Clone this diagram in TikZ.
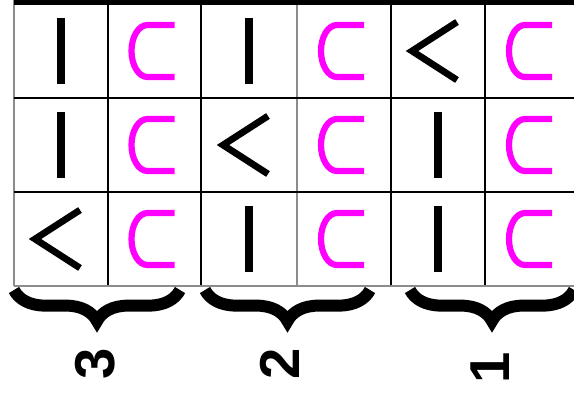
\documentclass[tikz,border=0pt]{standalone}
\usepackage{fontspec}
\setsansfont{Liberation Sans}
\usetikzlibrary{decorations.pathreplacing}
\definecolor{purlpink}{RGB}{255,0,255}
\definecolor{gridgray}{RGB}{140,140,140}
\tikzset{
  gridthin/.style={draw=gridgray,line width=1.3pt},
  gridbold/.style={draw=black,line width=1.5pt},
  toprule/.style={draw=black,line width=3.6pt},
  knitbar/.style={draw=black,line width=5.6pt},
  slipvee/.style={draw=black,line width=4.8pt,line join=miter},
  purlcup/.style={draw=purlpink,line width=4.4pt},
  heavybrace/.style={decorate,decoration={brace,mirror,amplitude=0.78cm},line width=8.5pt},
  rownum/.style={font=\sffamily\bfseries\fontsize{40}{44}\selectfont,rotate=90,inner sep=0pt}
}
% chart symbols, #1 #2 = cell centre
\newcommand{\KnitSym}[2]{\draw[knitbar] (#1,#2) ++(0,-33) -- ++(0,66);}
\newcommand{\SlipSym}[2]{\draw[slipvee] (#1,#2) ++(19,-29) -- ++(-45,29) -- ++(45,29);}
\newcommand{\PurlSym}[2]{\draw[purlcup] (#1,#2) ++(20,-26) -- ++(-27,0)
  arc[start angle=270,end angle=90,x radius=16,y radius=26] -- ++(27,0);}

\begin{document}
\begin{tikzpicture}[x=0.025cm,y=-0.025cm]
  \useasboundingbox (0,0) rectangle (574,397);
  \clip (0,0) rectangle (574,397);

  % grid
  \foreach \x in {14,297} \draw[gridthin] (\x,0) -- (\x,286);
  \foreach \x in {108,201,391,485} \draw[gridbold] (\x,0) -- (\x,286);
  \foreach \y in {98,192} \draw[gridbold] (14,\y) -- (580,\y);
  \draw[gridthin] (14,286) -- (580,286);
  \draw[toprule] (14,2) -- (580,2);

  % row 1
  \KnitSym{61}{51}  \PurlSym{154.5}{51}
  \KnitSym{249}{51} \PurlSym{344}{51}
  \SlipSym{438}{51} \PurlSym{532}{51}
  % row 2
  \KnitSym{61}{145} \PurlSym{154.5}{145}
  \SlipSym{249}{145} \PurlSym{344}{145}
  \KnitSym{438}{145} \PurlSym{532}{145}
  % row 3
  \SlipSym{61}{239} \PurlSym{154.5}{239}
  \KnitSym{249}{239} \PurlSym{344}{239}
  \KnitSym{438}{239} \PurlSym{532}{239}

  % braces and numbers
  \coordinate (b3l) at (14,290);  \coordinate (b3r) at (180,290);
  \coordinate (b2l) at (205,290); \coordinate (b2r) at (370,290);
  \coordinate (b1l) at (410,290); \coordinate (b1r) at (574,290);
  \draw[heavybrace] (b3l) -- (b3r);
  \draw[heavybrace] (b2l) -- (b2r);
  \draw[heavybrace] (b1l) -- (b1r);
  \node[rownum] (n3) at (95,364) {3};
  \node[rownum] (n2) at (280,364) {2};
  \node[rownum] (n1) at (490,368) {1};
\end{tikzpicture}
\end{document}
